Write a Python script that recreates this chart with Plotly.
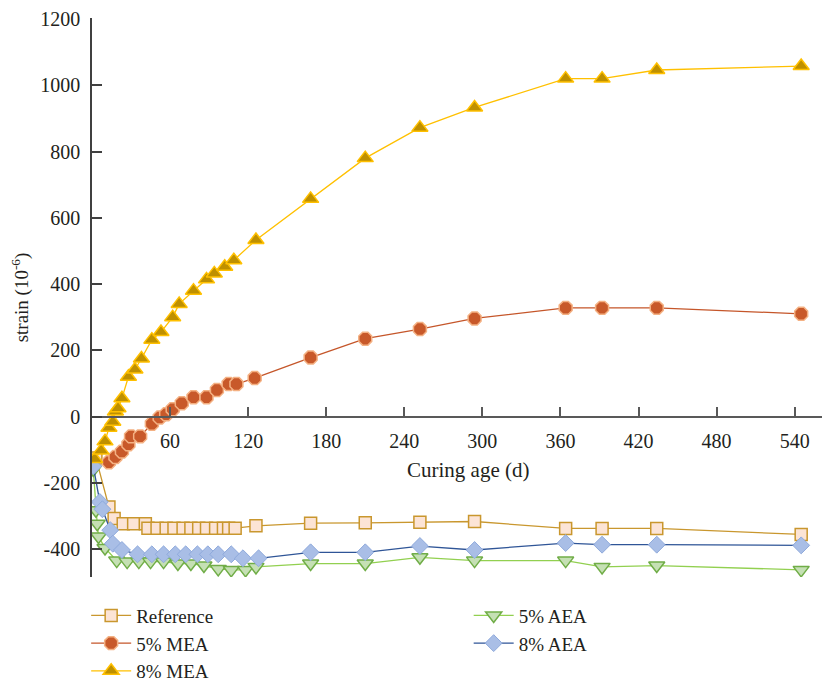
import plotly.graph_objects as go

# ---------------- data ----------------
ref_days = [3, 13, 17, 24, 32, 41, 43, 50, 57, 63, 70, 76, 82, 88, 95, 101, 105, 110, 126,
            168, 210, 252, 294, 364, 392, 434, 545]
ref_vals = [-125, -273, -308, -324, -324, -324, -337, -337, -337, -337, -337, -337, -337, -337,
            -337, -337, -337, -337, -330, -322, -321, -319, -317, -338, -338, -338, -356]

mea5_days = [13, 18, 23, 28, 30, 37, 46, 52, 57, 62, 69, 78, 88, 96, 105, 111, 125,
             168, 210, 252, 294, 364, 392, 434, 545]
mea5_vals = [-138, -122, -106, -84, -60, -60, -22, -3, 7, 22, 40, 58, 58, 80, 98, 98, 116,
             178, 235, 264, 296, 328, 328, 328, 310]

mea8_days = [2, 7, 10, 13, 16, 18, 20, 23, 28, 33, 38, 46, 53, 62, 67, 78, 88, 94, 102, 109, 126,
             168, 210, 252, 294, 364, 392, 434, 545]
mea8_vals = [-128, -103, -75, -34, -16, 15, 25, 55, 120, 142, 175, 232, 255, 300, 340, 380, 414,
             432, 452, 472, 533, 657, 780, 872, 933, 1020, 1020, 1046, 1058]

aea5_days = [1, 3, 4, 5, 10, 19, 27, 36, 45, 55, 66, 76, 86, 97, 107, 118, 126,
             168, 210, 252, 294, 364, 392, 434, 545]
aea5_vals = [-160, -283, -324, -362, -397, -435, -438, -438, -438, -438, -444, -444, -450, -460,
             -463, -463, -454, -444, -444, -425, -435, -435, -454, -450, -463]

aea8_days = [1, 6, 8, 14, 16, 23, 35, 46, 55, 64, 72, 81, 89, 97, 107, 116, 128,
             168, 210, 252, 294, 364, 392, 434, 545]
aea8_vals = [-150, -258, -280, -343, -384, -403, -416, -416, -416, -416, -416, -416, -416, -416,
             -416, -428, -428, -410, -410, -391, -403, -382, -387, -387, -389]

x_ticks = [60, 120, 180, 240, 300, 360, 420, 480, 540]
y_ticks = [-400, -200, 0, 200, 400, 600, 800, 1000, 1200]
y_labels = ["-400", "-200", "0", "200", "400", "600", "800", "1000", "1200"]

X_RANGE = [0, 561]
Y_RANGE = [-484.5, 1203]

FONT = "Liberation Serif, Tinos, Times New Roman, DejaVu Serif, serif"
TXT = "#231F20"

fig = go.Figure()

series = [
    ("Reference", ref_days, ref_vals,
     dict(symbol="square", size=12, color="#FCE4D6", line=dict(color="#C9972E", width=1.5)),
     "#C9972E", "legend"),
    ("5% AEA", aea5_days, aea5_vals,
     dict(symbol="triangle-down", size=14, color="#C5E0B4", line=dict(color="#70AD47", width=1.5)),
     "#92D050", "legend2"),
    ("8% AEA", aea8_days, aea8_vals,
     dict(symbol="diamond", size=13, color="#A9BEE6", line=dict(color="#8FAADC", width=1)),
     "#2F5597", "legend2"),
    ("5% MEA", mea5_days, mea5_vals,
     dict(symbol="octagon", size=14, color="#C8592A", line=dict(color="#F4B183", width=1.5)),
     "#C5562A", "legend"),
    ("8% MEA", mea8_days, mea8_vals,
     dict(symbol="triangle-up", size=14, color="#BF9000", line=dict(color="#FFC000", width=1.5)),
     "#FFC000", "legend"),
]

for name, xs, ys, mk, lc, lg in series:
    fig.add_trace(go.Scatter(
        x=xs, y=ys, name=name, mode="lines+markers",
        line=dict(color=lc, width=1.3), marker=mk, legend=lg,
    ))

zero_pos = (0 - Y_RANGE[0]) / (Y_RANGE[1] - Y_RANGE[0])

# the page adds an 8 px body margin, so the figure is a little smaller and shifted
fig.update_layout(
    width=828, height=674,
    margin=dict(l=84, r=14, t=10, b=105, autoexpand=False),
    paper_bgcolor="white", plot_bgcolor="white",
    font=dict(family=FONT, size=20, color=TXT),
    xaxis=dict(
        range=X_RANGE, tickvals=x_ticks, ticks="inside", ticklen=9, tickwidth=1.5,
        tickcolor="#595959", showline=True, linecolor="#595959", linewidth=1.5,
        showgrid=False, zeroline=False, anchor="free", position=zero_pos,
        ticklabelstandoff=7, automargin=False, ticklabeloverflow="allow",
        tickfont=dict(family=FONT, size=20, color=TXT),
    ),
    yaxis=dict(
        range=Y_RANGE, tickvals=y_ticks, ticktext=y_labels, ticks="inside", ticklen=10,
        tickwidth=1.5, tickcolor="#404040", showline=True, linecolor="#404040", linewidth=1.5,
        showgrid=False, zeroline=False, ticklabelstandoff=6, automargin=False,
        ticklabeloverflow="allow",
        tickfont=dict(family=FONT, size=20, color=TXT),
        title=dict(text="strain (10<sup>-6</sup>)", standoff=10,
                   font=dict(family=FONT, size=19, color=TXT)),
    ),
    annotations=[dict(
        text="Curing age (d)", xref="paper", yref="paper", x=0.515, y=0.192,
        xanchor="center", yanchor="middle", showarrow=False,
        font=dict(family=FONT, size=21, color=TXT),
    )],
    legend=dict(x=-0.008, y=-0.035, xanchor="left", yanchor="top", bgcolor="rgba(0,0,0,0)",
                itemwidth=40, font=dict(family=FONT, size=19, color=TXT)),
    legend2=dict(x=0.516, y=-0.035, xanchor="left", yanchor="top", bgcolor="rgba(0,0,0,0)",
                 itemwidth=40, font=dict(family=FONT, size=19, color=TXT)),
)

fig.write_html("out.html")
